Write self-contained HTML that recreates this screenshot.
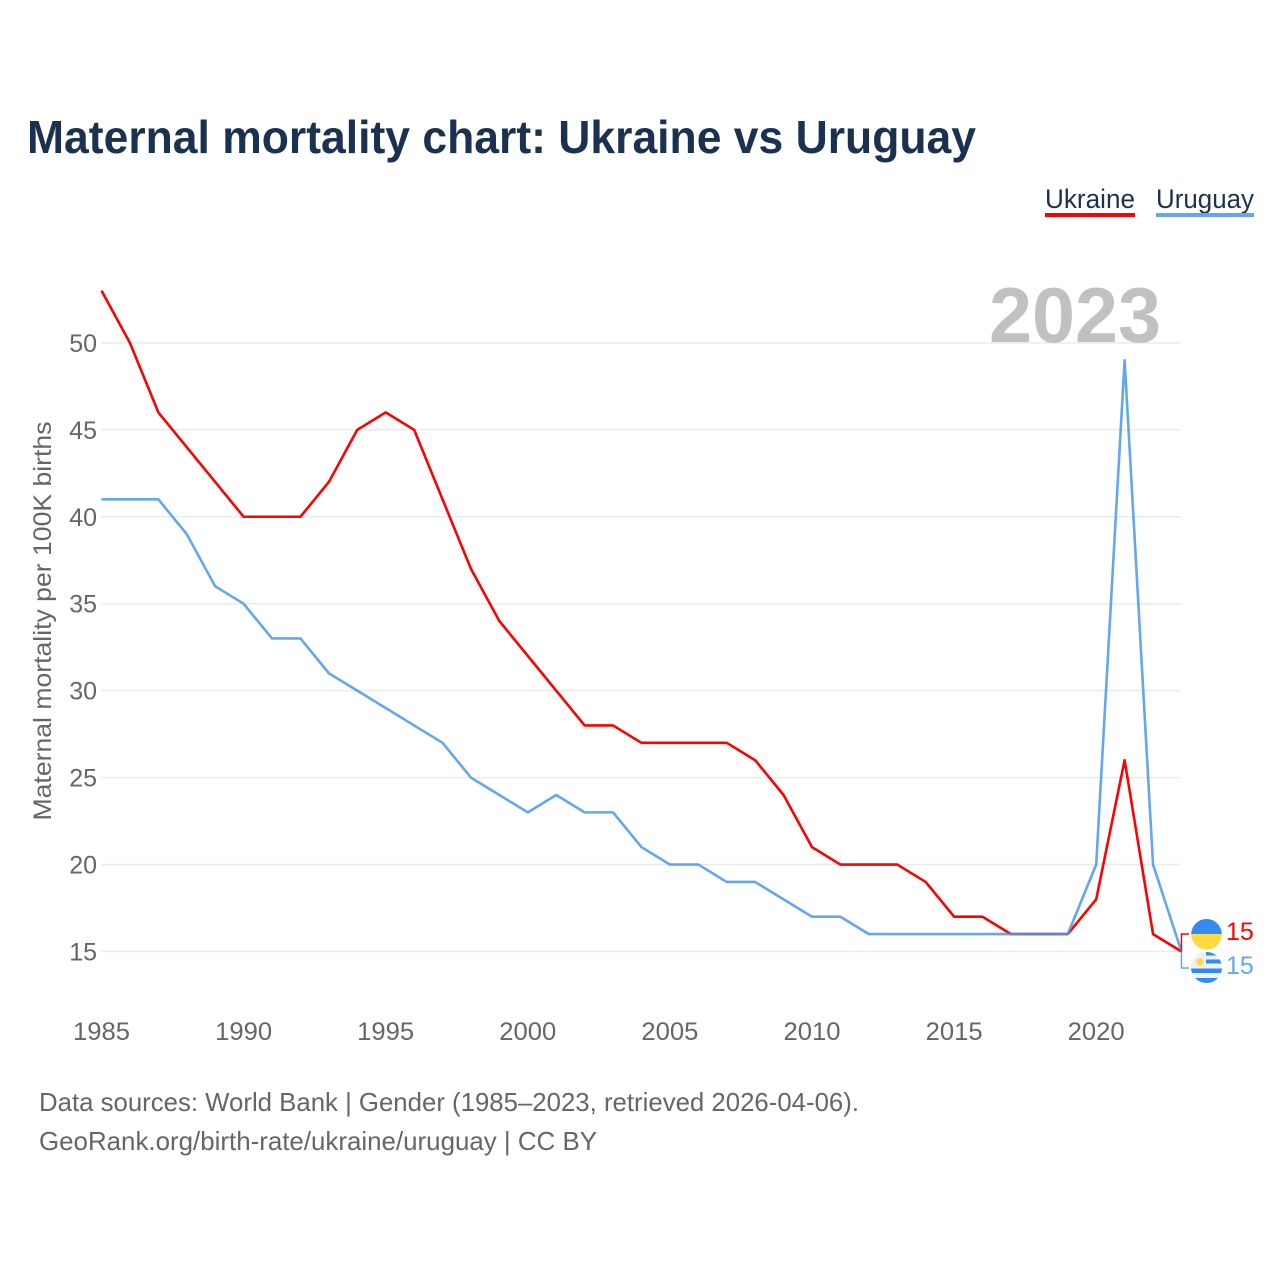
<!DOCTYPE html>
<html lang="en">
<head>
<meta charset="utf-8">
<title>Maternal mortality chart: Ukraine vs Uruguay</title>
<style>
html,body{margin:0;padding:0;background:#fff;}
svg{display:block;}
text{font-family:"Liberation Sans",sans-serif;}
</style>
</head>
<body>
<svg id="chart" xmlns="http://www.w3.org/2000/svg" width="1280" height="1280" viewBox="0 0 1280 1280">
  <rect x="0" y="0" width="1280" height="1280" fill="#ffffff"/>
  <text x="27" y="153" font-size="46" font-weight="700" fill="#1a3150" textLength="949" lengthAdjust="spacingAndGlyphs">Maternal mortality chart: Ukraine vs Uruguay</text>

  <g>
    <text x="1045" y="208" font-size="27" fill="#1a3150" textLength="90" lengthAdjust="spacingAndGlyphs">Ukraine</text>
    <rect x="1045" y="213" width="90" height="4" fill="#ff0000"/>
  </g>
  <g>
    <text x="1156" y="208" font-size="27" fill="#1a3150" textLength="98" lengthAdjust="spacingAndGlyphs">Uruguay</text>
    <rect x="1156" y="213" width="98" height="4" fill="#63a7ee"/>
  </g>

  <g id="grid"></g>
  <text x="1075" y="342" font-size="78" font-weight="700" fill="#c1c1c1" text-anchor="middle" textLength="172" lengthAdjust="spacingAndGlyphs">2023</text>
  <g id="yticks"></g>
  <g id="xticks"></g>
  <text transform="translate(51 621) rotate(-90)" font-size="25" fill="#666666" text-anchor="middle" textLength="399" lengthAdjust="spacingAndGlyphs">Maternal mortality per 100K births</text>

  <g id="series"></g>
  <g id="ends"></g>

  <g>
    <clipPath id="clip-ua"><circle cx="1206.5" cy="934.3" r="15.3"/></clipPath>
    <g clip-path="url(#clip-ua)">
      <rect x="1191" y="918" width="31" height="16" fill="#338af3"/>
      <rect x="1191" y="934" width="31" height="17" fill="#ffda44"/>
    </g>
  </g>
  <g>
    <clipPath id="clip-uy"><circle cx="1206.5" cy="967.5" r="15.5"/></clipPath>
    <g clip-path="url(#clip-uy)">
      <rect x="1191" y="952" width="31" height="31" fill="#f0f0f0"/>
      <rect x="1206" y="952" width="16" height="3.5" fill="#338af3"/>
      <rect x="1206" y="959.5" width="16" height="4" fill="#338af3"/>
      <rect x="1191" y="968.5" width="31" height="4.5" fill="#338af3"/>
      <rect x="1191" y="978" width="31" height="5" fill="#338af3"/>
      <circle cx="1200" cy="962" r="3.7" fill="#ffda44"/>
    </g>
  </g>

  <text x="39" y="1111" font-size="26" fill="#666666" textLength="820" lengthAdjust="spacingAndGlyphs">Data sources: World Bank | Gender (1985–2023, retrieved 2026-04-06).</text>
  <text x="39" y="1150" font-size="26" fill="#666666" textLength="558" lengthAdjust="spacingAndGlyphs">GeoRank.org/birth-rate/ukraine/uruguay | CC BY</text>
</svg>
<script>
const years = [1985,1986,1987,1988,1989,1990,1991,1992,1993,1994,1995,1996,1997,1998,1999,2000,2001,2002,2003,2004,2005,2006,2007,2008,2009,2010,2011,2012,2013,2014,2015,2016,2017,2018,2019,2020,2021,2022,2023];
const ukraineValues = [53,50,46,44,42,40,40,40,42,45,46,45,41,37,34,32,30,28,28,27,27,27,27,26,24,21,20,20,20,19,17,17,16,16,16,18,26,16,15];
const uruguayValues = [41,41,41,39,36,35,33,33,31,30,29,28,27,25,24,23,24,23,23,21,20,20,19,19,18,17,17,16,16,16,16,16,16,16,16,20,49,20,15];
const yTickValues = [15,20,25,30,35,40,45,50];
const xTickValues = [1985,1990,1995,2000,2005,2010,2015,2020];

const NS = 'http://www.w3.org/2000/svg';
function xScale(year){ return 101.5 + (year - 1985) * 28.42; }
function yScale(value){ return 951.5 - (value - 15) * 17.39; }
function make(tag, attrs, parent, content){
  const node = document.createElementNS(NS, tag);
  Object.keys(attrs).forEach(function(key){ node.setAttribute(key, attrs[key]); });
  if (content !== undefined) node.textContent = content;
  parent.appendChild(node);
  return node;
}

const gridGroup = document.getElementById('grid');
const yTickGroup = document.getElementById('yticks');
yTickValues.forEach(function(value){
  const line = make('line', {x1:101.5, x2:1181, y1:yScale(value), y2:yScale(value), stroke:'#ebebeb', 'stroke-width':1.5}, gridGroup);
  
  
  const label = make('text', {x:97, y:yScale(value) + 9, 'font-size':25, fill:'#666666', 'text-anchor':'end'}, yTickGroup, String(value));
  
  
});

const xTickGroup = document.getElementById('xticks');
xTickValues.forEach(function(year){
  const label = make('text', {x:xScale(year), y:1040, 'font-size':25, fill:'#666666', 'text-anchor':'middle', textLength:57, lengthAdjust:'spacingAndGlyphs'}, xTickGroup, String(year));
  
  
});

function linePath(values){
  return values.map(function(value, i){
    return (i ? 'L' : 'M') + xScale(years[i]).toFixed(2) + ' ' + yScale(value).toFixed(2);
  }).join(' ');
}
const seriesGroup = document.getElementById('series');
const ukraineLine = make('path', {d:linePath(ukraineValues), fill:'none', stroke:'#ff0000', 'stroke-width':2.6, 'stroke-linejoin':'round'}, seriesGroup);


const uruguayLine = make('path', {d:linePath(uruguayValues), fill:'none', stroke:'#4898eb', 'stroke-opacity':0.85, 'stroke-width':2.6, 'stroke-linejoin':'round'}, seriesGroup);



const endGroup = document.getElementById('ends');
const lastIndex = years.length - 1;
const endX = xScale(years[lastIndex]);
const redEndY = yScale(ukraineValues[lastIndex]);
const blueEndY = yScale(uruguayValues[lastIndex]);
const redConnector = make('path', {d:'M' + endX + ' ' + redEndY + ' V934 H1189', fill:'none', stroke:'#ff0000', 'stroke-width':1.5}, endGroup);


const blueConnector = make('path', {d:'M' + endX + ' ' + blueEndY + ' V968 H1189', fill:'none', stroke:'#63a7ee', 'stroke-width':1.5}, endGroup);


const redValue = make('text', {x:1226, y:940, 'font-size':25, fill:'#ff0000'}, endGroup, String(ukraineValues[lastIndex]));


const blueValue = make('text', {x:1226, y:974, 'font-size':25, fill:'#63a7ee'}, endGroup, String(uruguayValues[lastIndex]));


</script>
</body>
</html>
